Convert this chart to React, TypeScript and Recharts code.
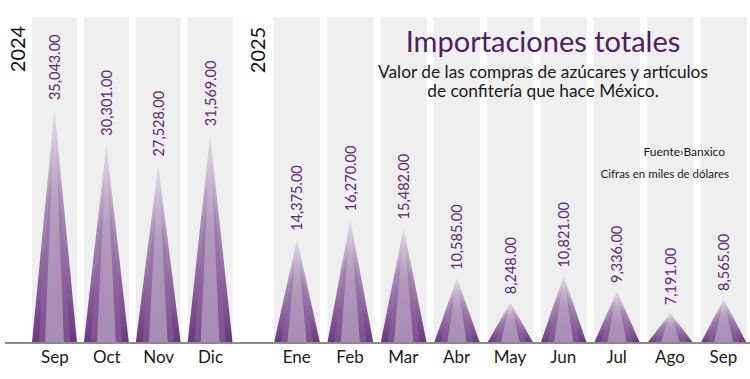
import React from "react";
import { BarChart, Bar, XAxis, YAxis, LabelList } from "recharts";

// ── Data ─────────────────────────────────────────────────────

const months2024 = ["Sep", "Oct", "Nov", "Dic"];
const values2024 = [35043, 30301, 27528, 31569];

const months2025 = ["Ene", "Feb", "Mar", "Abr", "May", "Jun", "Jul", "Ago", "Sep"];
const values2025 = [14375, 16270, 15482, 10585, 8248, 10821, 9336, 7191, 8565];

const data2024 = months2024.map((m, i) => ({ mes: m, valor: values2024[i] }));
const data2025 = months2025.map((m, i) => ({ mes: m, valor: values2025[i] }));

const FONT = "Lato, 'Open Sans', sans-serif";
const PURPLE = "#5a2a6e";

// ── Cone shaped bar ──────────────────────────────────────────

const Cone = (props: any) => {
  const { x, y, width, height } = props;
  if (!height || height <= 0) return null;
  const base = y + height;
  const cx = x + width / 2;
  const pts = (f: number) => `${x + width * f},${base} ${cx},${y} ${x + width * (1 - f)},${base}`;
  return (
    <g>
      <polygon points={pts(0)} fill="url(#coneOuter)" />
      <polygon points={pts(0.15)} fill="url(#coneMid)" />
      <polygon points={pts(0.29)} fill="url(#coneInner)" />
    </g>
  );
};

const Gradients = () => (
  <defs>
    <linearGradient id="coneOuter" x1="0" y1="0" x2="0" y2="1">
      <stop offset="0%" stopColor="#c9b9cf" stopOpacity={0.3} />
      <stop offset="40%" stopColor="#a486b1" stopOpacity={0.9} />
      <stop offset="100%" stopColor="#6a377f" />
    </linearGradient>
    <linearGradient id="coneMid" x1="0" y1="0" x2="0" y2="1">
      <stop offset="0%" stopColor="#c9b9cf" stopOpacity={0} />
      <stop offset="45%" stopColor="#9a7aa8" stopOpacity={0.7} />
      <stop offset="100%" stopColor="#7e4f92" />
    </linearGradient>
    <linearGradient id="coneInner" x1="0" y1="0" x2="0" y2="1">
      <stop offset="0%" stopColor="#e4dbe7" stopOpacity={0.2} />
      <stop offset="50%" stopColor="#b7a0c1" stopOpacity={0.8} />
      <stop offset="100%" stopColor="#a78cb4" />
    </linearGradient>
  </defs>
);

// ── Rotated value label ──────────────────────────────────────

const ValueLabel = (props: any) => {
  const { x, y, width, value } = props;
  const cx = x + width / 2;
  const ty = y - 8;
  const txt = Number(value).toLocaleString("en-US", { minimumFractionDigits: 2, maximumFractionDigits: 2 });
  return (
    <text
      x={cx}
      y={ty}
      transform={`rotate(-90 ${cx} ${ty})`}
      textAnchor="start"
      dominantBaseline="central"
      fill={PURPLE}
      fontSize={14.5}
      fontFamily={FONT}
    >
      {txt}
    </text>
  );
};

const tickStyle = { fontSize: 17, fill: "#1a1a1a", fontFamily: FONT };

export default function App() {
  return (
    <div style={{ position: "absolute", left: 0, top: 0, width: 750, height: 379, background: "#fff", overflow: "hidden" }}>
      <div style={{ position: "absolute", left: 0, top: 0 }}>
        <BarChart width={253} height={379} data={data2024} margin={{ top: 17, right: 0, bottom: 6, left: 5 }}>
          <Gradients />
          <XAxis
            dataKey="mes"
            height={30}
            padding={{ left: 24, right: 16.5 }}
            axisLine={{ stroke: "#8c8c8c", strokeWidth: 2 }}
            tickLine={false}
            tick={tickStyle}
            interval={0}
          />
          <YAxis hide type="number" domain={[3700, 47200]} allowDataOverflow />
          <Bar dataKey="valor" barSize={45} shape={<Cone />} background={{ fill: "#f0eff0" }} isAnimationActive={false}>
            <LabelList dataKey="valor" content={<ValueLabel />} />
          </Bar>
        </BarChart>
      </div>
      <div style={{ position: "absolute", left: 253, top: 0 }}>
        <BarChart width={497} height={379} data={data2025} margin={{ top: 17, right: 0, bottom: 6, left: 0 }}>
          <Gradients />
          <XAxis
            dataKey="mes"
            height={30}
            padding={{ left: 17, right: 0 }}
            axisLine={{ stroke: "#8c8c8c", strokeWidth: 2 }}
            tickLine={false}
            tick={tickStyle}
            interval={0}
          />
          <YAxis hide type="number" domain={[4300, 35830]} allowDataOverflow />
          <Bar dataKey="valor" barSize={46} shape={<Cone />} background={{ fill: "#f0eff0" }} isAnimationActive={false}>
            <LabelList dataKey="valor" content={<ValueLabel />} />
          </Bar>
        </BarChart>
      </div>
      <svg width={750} height={379} style={{ position: "absolute", left: 0, top: 0, pointerEvents: "none" }}>
        <text x={17} y={49} transform="rotate(-90 17 49)" textAnchor="middle" dominantBaseline="central"
          fontSize={20} fill="#111" fontFamily={FONT}>2024</text>
        <text x={257} y={50} transform="rotate(-90 257 50)" textAnchor="middle" dominantBaseline="central"
          fontSize={20} fill="#111" fontFamily={FONT}>2025</text>
        <text x={543} y={52} textAnchor="middle" fontSize={29} fill="#4e2161" fontFamily={FONT}>
          Importaciones totales
        </text>
        <text x={543} y={78} textAnchor="middle" fontSize={17.3} fill="#1a1a1a" fontFamily={FONT}>
          Valor de las compras de azúcares y artículos
        </text>
        <text x={543} y={97} textAnchor="middle" fontSize={17.3} fill="#1a1a1a" fontFamily={FONT}>
          de confitería que hace México.
        </text>
        <text x={725} y={156} textAnchor="end" fontSize={12} fill="#1a1a1a" fontFamily={FONT}>
          Fuente›Banxico
        </text>
        <text x={729} y={178} textAnchor="end" fontSize={11.5} fill="#1a1a1a" fontFamily={FONT}>
          Cifras en miles de dólares
        </text>
      </svg>
    </div>
  );
}
